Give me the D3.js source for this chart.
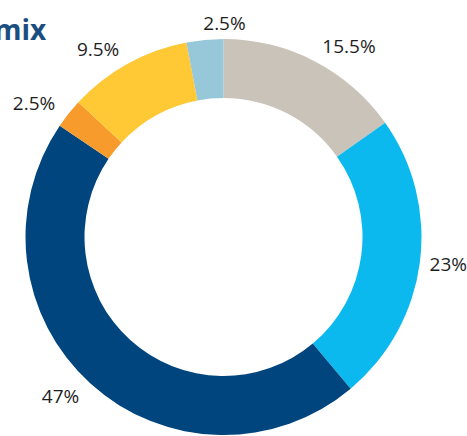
<!DOCTYPE html>
<html>
<head>
<meta charset="utf-8">
<script src="https://cdn.jsdelivr.net/npm/d3@7"></script>
<style>
  html, body { margin: 0; padding: 0; background: #fff; }
  svg { display: block; }
</style>
</head>
<body>
<svg id="chart"></svg>
<script>
const categories = ['A', 'B', 'C', 'D', 'E', 'F']
// printed percentages
const shares = [15.5, 23, 47, 2.5, 9.5, 2.5]
// arc sizes as drawn in the picture (they differ a little from the printed ones)
const arcValues = [15.2, 23.7, 45.6, 2.4, 10.1, 3.0]
const colors = ['#c9c3b9', '#0cb9ee', '#00457e', '#f69b2c', '#ffc835', '#97c8d9']

const svgWidth = 467
const svgHeight = 436
const cx = 223.5
const cy = 237
const outer = 198
const inner = 139
const labelR = 215

const svg = d3.select('#chart')
  .attr('width', svgWidth)
  .attr('height', svgHeight)

// title, partly cut off on the left
svg.append('text')
  .attr('x', -6)
  .attr('y', 40)
  .attr('font-family', 'Open Sans, sans-serif')
  .attr('font-weight', 700)
  .attr('font-size', 28)
  .attr('fill', '#1b4e80')
  .text('mix')

const pie = d3.pie().sort(null).value(d => d)
const arcs = pie(arcValues)

const arc = d3.arc().innerRadius(inner).outerRadius(outer)
const midAngle = d => (d.startAngle + d.endAngle) / 2

const g = svg.append('g')
  .attr('transform', `translate(${cx}, ${cy})`)

g.selectAll('path')
  .data(arcs)
  .join('path')
  .attr('class', (d, i) => 'slice ' + categories[i])
  .attr('fill', (d, i) => colors[i])
  .attr('d', arc)

// labels hang off the ring: left side ones end at the anchor point, the rest start there
const labels = g.selectAll('text')
  .data(arcs)
  .join('text')
  .attr('text-anchor', d => Math.sin(midAngle(d)) < -0.15 ? 'end' : 'start')
  .attr('dy', '0.35em')
  .attr('font-family', 'Open Sans, sans-serif')
  .attr('font-size', 19)
  .attr('fill', '#1e1e1e')
  .text((d, i) => shares[i] + '%')

// keep them inside the page
labels.each(function (d) {
  const a = midAngle(d)
  const w = this.getComputedTextLength()
  let x = labelR * Math.sin(a)
  const y = -labelR * Math.cos(a)
  if (Math.sin(a) >= -0.15) x = Math.min(x, svgWidth - cx - w)
  d3.select(this).attr('transform', `translate(${x}, ${y})`)
})
</script>
</body>
</html>
